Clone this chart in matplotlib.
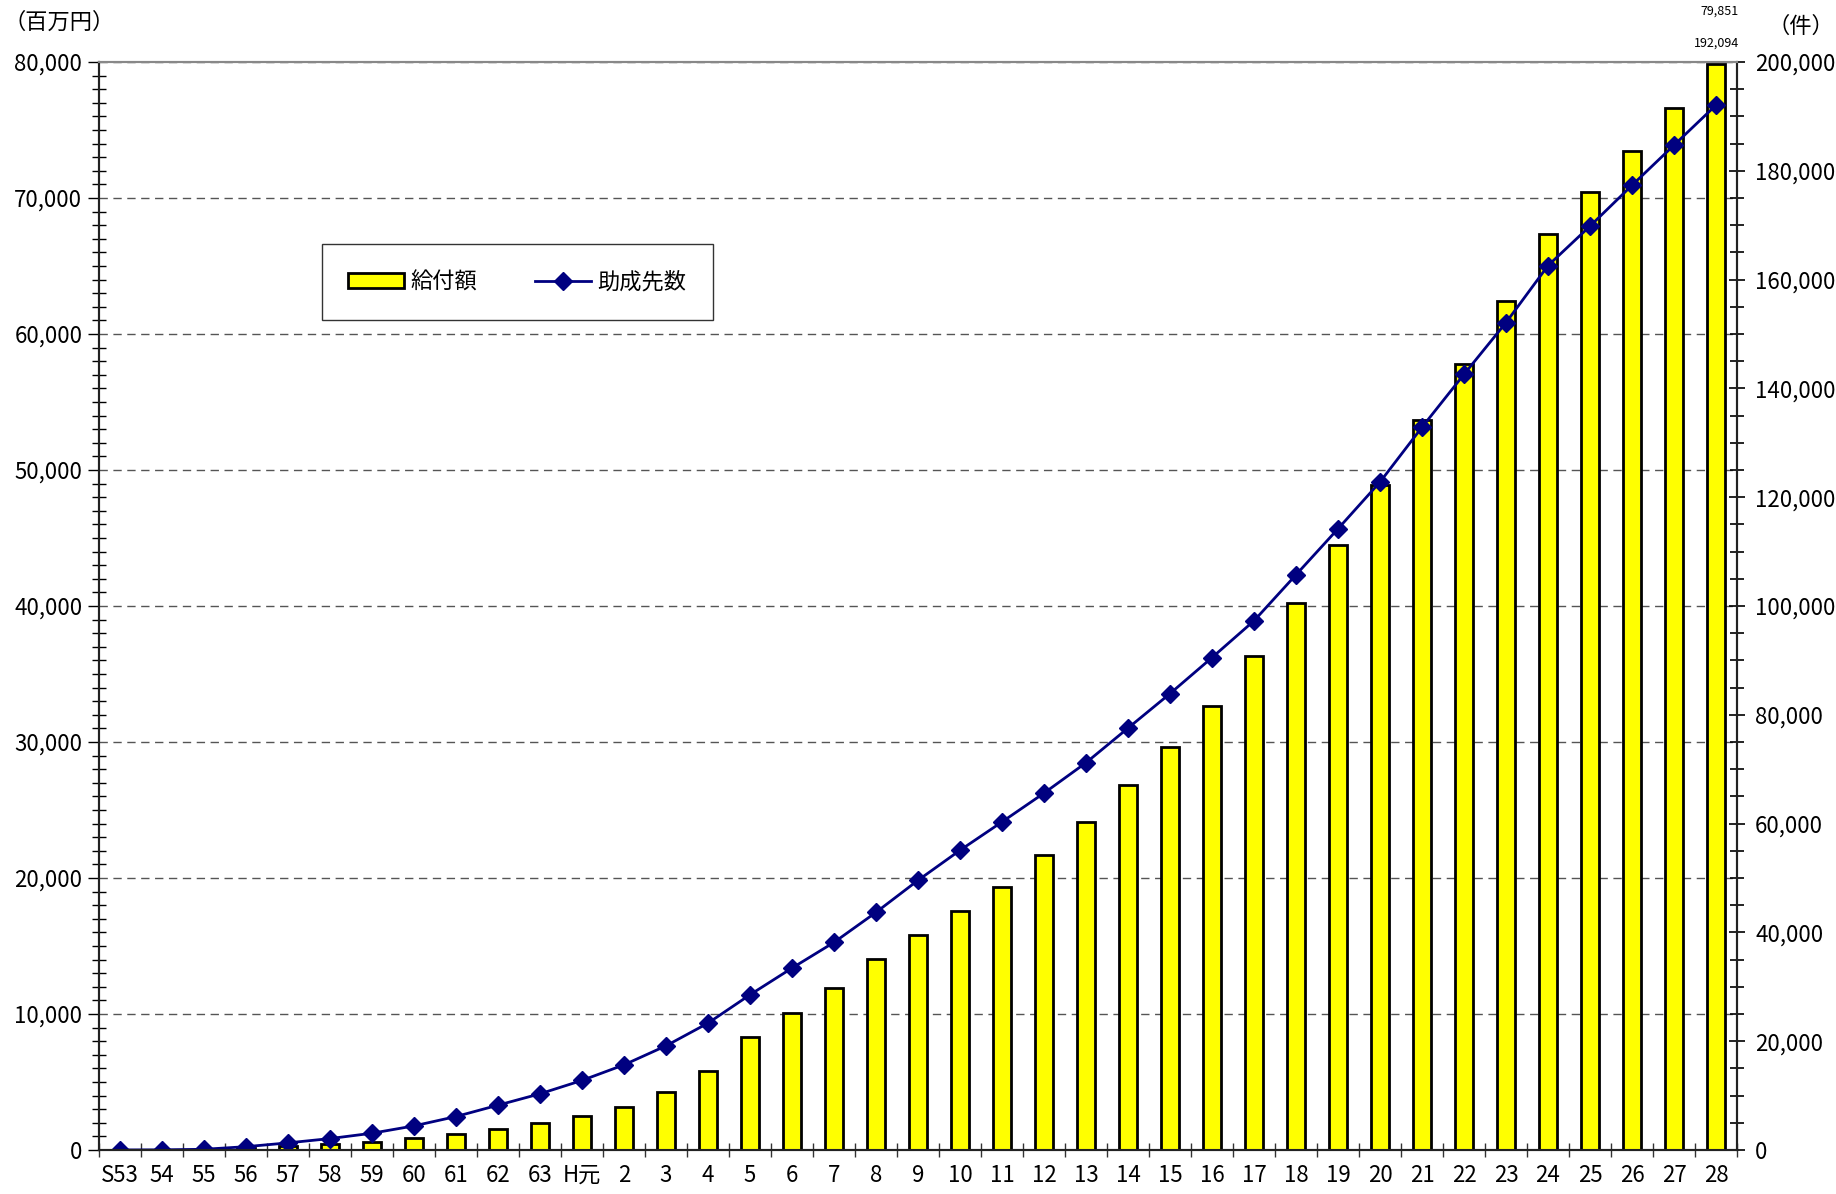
import matplotlib.pyplot as plt
import numpy as np
from matplotlib.ticker import FuncFormatter, MultipleLocator

plt.rcParams["font.family"] = ["Noto Sans CJK JP", "DejaVu Sans"]

# fiscal years (昭和53 .. 平成28)
years = ["S53", "54", "55", "56", "57", "58", "59", "60", "61", "62", "63", "H元",
         "2", "3", "4", "5", "6", "7", "8", "9", "10", "11", "12", "13", "14",
         "15", "16", "17", "18", "19", "20", "21", "22", "23", "24", "25", "26",
         "27", "28"]

# 給付額 (百万円)
benefit = [0, 5, 30, 120, 320, 440, 614, 885, 1180, 1548, 2015, 2530,
           3141, 4270, 5791, 8270, 10061, 11902, 14012, 15828, 17595, 19313,
           21693, 24098, 26850, 29612, 32657, 36321, 40240, 44468, 48900,
           53686, 57773, 62396, 67377, 70441, 73431, 76593, 79851]

# 助成先数 (件)
recipients = [0, 20, 120, 600, 1300, 2090, 3070, 4420, 6140, 8230, 10320,
              12780, 15644, 19141, 23313, 28528, 33436, 38160, 43681, 49571,
              55092, 60307, 65600, 71190, 77555, 83897, 90521, 97287, 105743,
              114200, 122798, 132875, 142600, 152114, 162585, 169846, 177354,
              184738, 192094]

x = np.arange(len(years))
comma = FuncFormatter(lambda v, p: f"{v:,.0f}")

fig = plt.figure(figsize=(18.36, 11.94), dpi=100)
ax = fig.add_axes([0.0539, 0.0369, 0.8922, 0.9111])
ax2 = ax.twinx()

bars = ax.bar(x, benefit, width=0.41, color="#ffff00", edgecolor="black",
              linewidth=2, zorder=3, label="給付額")
line, = ax2.plot(x, recipients, color="#000080", linewidth=2, marker="D",
                 markersize=9.5, label="助成先数")

ax.set_xlim(-0.5, len(years) - 0.5)
ax.set_ylim(0, 80000)
ax2.set_ylim(0, 200000)

ax.yaxis.set_major_locator(MultipleLocator(10000))
ax.yaxis.set_minor_locator(MultipleLocator(1000))
ax.yaxis.set_major_formatter(comma)
ax2.yaxis.set_major_locator(MultipleLocator(20000))
ax2.yaxis.set_minor_locator(MultipleLocator(5000))
ax2.yaxis.set_major_formatter(comma)

ax.grid(axis="y", which="major", linestyle=(0, (6, 4)), color="#555555",
        linewidth=1, zorder=0)
ax.set_axisbelow(True)

ax.set_xticks(x)
ax.set_xticklabels(years)
ax.set_xticks(np.arange(-0.5, len(years), 1), minor=True)
ax.tick_params(axis="x", which="major", length=0, pad=10, labelsize=16)
ax.tick_params(axis="x", which="minor", direction="inout", length=10,
               width=1, color="#333333")
ax.tick_params(axis="y", which="major", direction="out", length=8, width=1,
               labelsize=16, pad=4)
ax.tick_params(axis="y", which="minor", direction="inout", length=10, width=1)
ax2.tick_params(axis="y", which="major", direction="inout", length=12,
                width=1.2, labelsize=16, pad=7)
ax2.tick_params(axis="y", which="minor", direction="inout", length=10,
                width=1.2)

for a in (ax, ax2):
    a.spines["top"].set_color("#888888")
    a.spines["top"].set_linewidth(1.5)
    for s in ("left", "right", "bottom"):
        a.spines[s].set_color("#222222")
        a.spines[s].set_linewidth(1.5)

leg = ax2.legend([bars, line], ["給付額", "助成先数"], ncol=2,
                 loc="upper left", bbox_to_anchor=(0.136, 0.833),
                 fontsize=16, frameon=True, fancybox=False, edgecolor="black",
                 borderpad=1.2, handlelength=2.5, handletextpad=0.3,
                 columnspacing=2.6, borderaxespad=0)
leg.get_frame().set_linewidth(1)

fig.text(0.002, 0.981, "（百万円）", fontsize=16, ha="left", va="center")
fig.text(0.999, 0.978, "（件）", fontsize=16, ha="right", va="center")
fig.text(0.947, 0.991, f"{benefit[-1]:,}", fontsize=9, ha="right", va="center")
fig.text(0.947, 0.964, f"{recipients[-1]:,}", fontsize=9, ha="right",
         va="center")

fig.savefig("out.png", dpi=100)
